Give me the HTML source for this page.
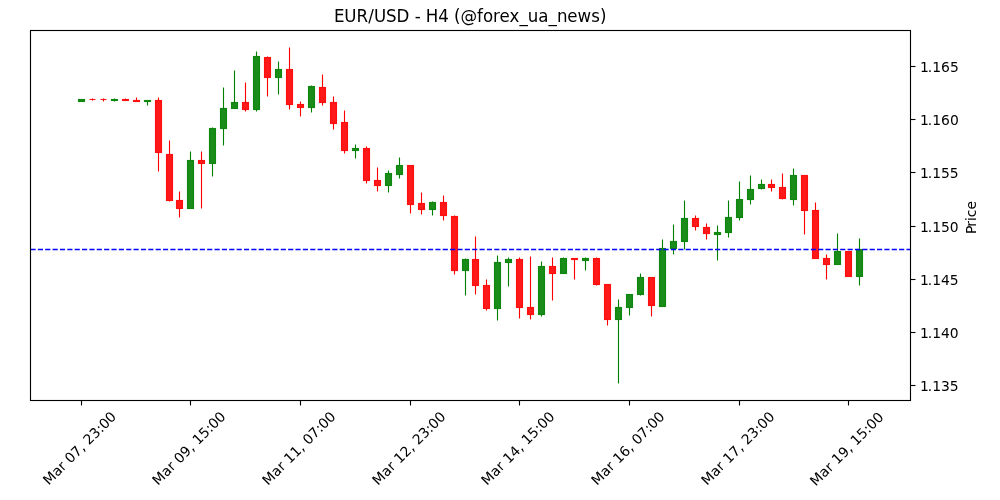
<!DOCTYPE html>
<html lang="en"><head><meta charset="utf-8"><title>EUR/USD - H4</title>
<style>html,body{margin:0;padding:0;background:#fff}svg{display:block}text{font-family:"DejaVu Sans","Liberation Sans",sans-serif;fill:#000}</style></head>
<body>
<svg width="1000" height="500" viewBox="0 0 1000 500">
<rect width="1000" height="500" fill="#fff"/>
<g stroke-width="1.111" stroke-linecap="butt">
<rect x="78.5" y="99.5" width="6" height="2" fill="#008000" stroke="#008000" fill-opacity="0.9" stroke-opacity="0.9"/>
<path d="M89.5 99.5h6" stroke="#ff0000" stroke-opacity="0.9" stroke-linecap="butt"/><path d="M92.5 98.5V99.5" stroke="#ff0000"/><path d="M92.5 99.5V100.5" stroke="#ff0000"/>
<path d="M100.5 99.5h6" stroke="#ff0000" stroke-opacity="0.9" stroke-linecap="butt"/><path d="M103.5 98.5V99.5" stroke="#ff0000"/><path d="M103.5 99.5V101.5" stroke="#ff0000"/>
<rect x="111.5" y="99.5" width="6" height="1" fill="#008000" stroke="#008000" fill-opacity="0.9" stroke-opacity="0.9"/><path d="M114.5 98.5V99.5" stroke="#008000"/><path d="M114.5 100.5V101.5" stroke="#008000"/>
<rect x="122.5" y="99.5" width="6" height="1" fill="#ff0000" stroke="#ff0000" fill-opacity="0.9" stroke-opacity="0.9"/><path d="M125.5 98.5V99.5" stroke="#ff0000"/>
<rect x="133.5" y="100.5" width="6" height="1" fill="#ff0000" stroke="#ff0000" fill-opacity="0.9" stroke-opacity="0.9"/><path d="M136.5 97.5V100.5" stroke="#ff0000"/>
<rect x="144.5" y="100.5" width="6" height="1" fill="#008000" stroke="#008000" fill-opacity="0.9" stroke-opacity="0.9"/><path d="M147.5 101.5V105.5" stroke="#008000"/>
<rect x="155.5" y="100.5" width="6" height="52" fill="#ff0000" stroke="#ff0000" fill-opacity="0.9" stroke-opacity="0.9"/><path d="M158.5 97.5V100.5" stroke="#ff0000"/><path d="M158.5 152.5V171.5" stroke="#ff0000"/>
<rect x="166.5" y="154.5" width="6" height="46" fill="#ff0000" stroke="#ff0000" fill-opacity="0.9" stroke-opacity="0.9"/><path d="M169.5 140.5V154.5" stroke="#ff0000"/><path d="M169.5 200.5V201.5" stroke="#ff0000"/>
<rect x="176.5" y="200.5" width="6" height="8" fill="#ff0000" stroke="#ff0000" fill-opacity="0.9" stroke-opacity="0.9"/><path d="M179.5 191.5V200.5" stroke="#ff0000"/><path d="M179.5 208.5V217.5" stroke="#ff0000"/>
<rect x="187.5" y="160.5" width="6" height="48" fill="#008000" stroke="#008000" fill-opacity="0.9" stroke-opacity="0.9"/><path d="M190.5 151.5V160.5" stroke="#008000"/>
<rect x="198.5" y="160.5" width="6" height="3" fill="#ff0000" stroke="#ff0000" fill-opacity="0.9" stroke-opacity="0.9"/><path d="M201.5 151.5V160.5" stroke="#ff0000"/><path d="M201.5 163.5V208.5" stroke="#ff0000"/>
<rect x="209.5" y="128.5" width="6" height="35" fill="#008000" stroke="#008000" fill-opacity="0.9" stroke-opacity="0.9"/><path d="M212.5 127.5V128.5" stroke="#008000"/><path d="M212.5 163.5V176.5" stroke="#008000"/>
<rect x="220.5" y="108.5" width="6" height="20" fill="#008000" stroke="#008000" fill-opacity="0.9" stroke-opacity="0.9"/><path d="M223.5 87.5V108.5" stroke="#008000"/><path d="M223.5 128.5V145.5" stroke="#008000"/>
<rect x="231.5" y="102.5" width="6" height="6" fill="#008000" stroke="#008000" fill-opacity="0.9" stroke-opacity="0.9"/><path d="M234.5 70.5V102.5" stroke="#008000"/>
<rect x="242.5" y="102.5" width="6" height="7" fill="#ff0000" stroke="#ff0000" fill-opacity="0.9" stroke-opacity="0.9"/><path d="M245.5 82.5V102.5" stroke="#ff0000"/><path d="M245.5 109.5V111.5" stroke="#ff0000"/>
<rect x="253.5" y="56.5" width="6" height="53" fill="#008000" stroke="#008000" fill-opacity="0.9" stroke-opacity="0.9"/><path d="M256.5 51.5V56.5" stroke="#008000"/><path d="M256.5 109.5V111.5" stroke="#008000"/>
<rect x="264.5" y="57.5" width="6" height="20" fill="#ff0000" stroke="#ff0000" fill-opacity="0.9" stroke-opacity="0.9"/><path d="M267.5 56.5V57.5" stroke="#ff0000"/><path d="M267.5 77.5V96.5" stroke="#ff0000"/>
<rect x="275.5" y="69.5" width="6" height="8" fill="#008000" stroke="#008000" fill-opacity="0.9" stroke-opacity="0.9"/><path d="M278.5 61.5V69.5" stroke="#008000"/><path d="M278.5 77.5V94.5" stroke="#008000"/>
<rect x="286.5" y="69.5" width="6" height="35" fill="#ff0000" stroke="#ff0000" fill-opacity="0.9" stroke-opacity="0.9"/><path d="M289.5 47.5V69.5" stroke="#ff0000"/><path d="M289.5 104.5V109.5" stroke="#ff0000"/>
<rect x="297.5" y="104.5" width="6" height="3" fill="#ff0000" stroke="#ff0000" fill-opacity="0.9" stroke-opacity="0.9"/><path d="M300.5 101.5V104.5" stroke="#ff0000"/><path d="M300.5 107.5V116.5" stroke="#ff0000"/>
<rect x="308.5" y="86.5" width="6" height="21" fill="#008000" stroke="#008000" fill-opacity="0.9" stroke-opacity="0.9"/><path d="M311.5 85.5V86.5" stroke="#008000"/><path d="M311.5 107.5V112.5" stroke="#008000"/>
<rect x="319.5" y="87.5" width="6" height="15" fill="#ff0000" stroke="#ff0000" fill-opacity="0.9" stroke-opacity="0.9"/><path d="M322.5 74.5V87.5" stroke="#ff0000"/><path d="M322.5 102.5V105.5" stroke="#ff0000"/>
<rect x="330.5" y="102.5" width="6" height="21" fill="#ff0000" stroke="#ff0000" fill-opacity="0.9" stroke-opacity="0.9"/><path d="M333.5 96.5V102.5" stroke="#ff0000"/><path d="M333.5 123.5V129.5" stroke="#ff0000"/>
<rect x="341.5" y="122.5" width="6" height="28" fill="#ff0000" stroke="#ff0000" fill-opacity="0.9" stroke-opacity="0.9"/><path d="M344.5 110.5V122.5" stroke="#ff0000"/><path d="M344.5 150.5V153.5" stroke="#ff0000"/>
<rect x="352.5" y="148.5" width="6" height="2" fill="#008000" stroke="#008000" fill-opacity="0.9" stroke-opacity="0.9"/><path d="M355.5 144.5V148.5" stroke="#008000"/><path d="M355.5 150.5V158.5" stroke="#008000"/>
<rect x="363.5" y="148.5" width="6" height="32" fill="#ff0000" stroke="#ff0000" fill-opacity="0.9" stroke-opacity="0.9"/><path d="M366.5 146.5V148.5" stroke="#ff0000"/><path d="M366.5 180.5V183.5" stroke="#ff0000"/>
<rect x="374.5" y="180.5" width="6" height="5" fill="#ff0000" stroke="#ff0000" fill-opacity="0.9" stroke-opacity="0.9"/><path d="M377.5 167.5V180.5" stroke="#ff0000"/><path d="M377.5 185.5V191.5" stroke="#ff0000"/>
<rect x="385.5" y="173.5" width="6" height="12" fill="#008000" stroke="#008000" fill-opacity="0.9" stroke-opacity="0.9"/><path d="M388.5 170.5V173.5" stroke="#008000"/><path d="M388.5 185.5V192.5" stroke="#008000"/>
<rect x="396.5" y="165.5" width="6" height="9" fill="#008000" stroke="#008000" fill-opacity="0.9" stroke-opacity="0.9"/><path d="M399.5 157.5V165.5" stroke="#008000"/><path d="M399.5 174.5V178.5" stroke="#008000"/>
<rect x="407.5" y="165.5" width="6" height="39" fill="#ff0000" stroke="#ff0000" fill-opacity="0.9" stroke-opacity="0.9"/><path d="M410.5 204.5V213.5" stroke="#ff0000"/>
<rect x="418.5" y="203.5" width="6" height="6" fill="#ff0000" stroke="#ff0000" fill-opacity="0.9" stroke-opacity="0.9"/><path d="M421.5 192.5V203.5" stroke="#ff0000"/><path d="M421.5 209.5V214.5" stroke="#ff0000"/>
<rect x="429.5" y="202.5" width="6" height="7" fill="#008000" stroke="#008000" fill-opacity="0.9" stroke-opacity="0.9"/><path d="M432.5 201.5V202.5" stroke="#008000"/><path d="M432.5 209.5V215.5" stroke="#008000"/>
<rect x="440.5" y="202.5" width="6" height="13" fill="#ff0000" stroke="#ff0000" fill-opacity="0.9" stroke-opacity="0.9"/><path d="M443.5 195.5V202.5" stroke="#ff0000"/><path d="M443.5 215.5V220.5" stroke="#ff0000"/>
<rect x="451.5" y="216.5" width="6" height="54" fill="#ff0000" stroke="#ff0000" fill-opacity="0.9" stroke-opacity="0.9"/><path d="M454.5 215.5V216.5" stroke="#ff0000"/><path d="M454.5 270.5V274.5" stroke="#ff0000"/>
<rect x="462.5" y="259.5" width="6" height="11" fill="#008000" stroke="#008000" fill-opacity="0.9" stroke-opacity="0.9"/><path d="M465.5 258.5V259.5" stroke="#008000"/><path d="M465.5 270.5V295.5" stroke="#008000"/>
<rect x="472.5" y="259.5" width="6" height="26" fill="#ff0000" stroke="#ff0000" fill-opacity="0.9" stroke-opacity="0.9"/><path d="M475.5 236.5V259.5" stroke="#ff0000"/><path d="M475.5 285.5V294.5" stroke="#ff0000"/>
<rect x="483.5" y="285.5" width="6" height="23" fill="#ff0000" stroke="#ff0000" fill-opacity="0.9" stroke-opacity="0.9"/><path d="M486.5 279.5V285.5" stroke="#ff0000"/><path d="M486.5 308.5V310.5" stroke="#ff0000"/>
<rect x="494.5" y="262.5" width="6" height="46" fill="#008000" stroke="#008000" fill-opacity="0.9" stroke-opacity="0.9"/><path d="M497.5 255.5V262.5" stroke="#008000"/><path d="M497.5 308.5V320.5" stroke="#008000"/>
<rect x="505.5" y="259.5" width="6" height="3" fill="#008000" stroke="#008000" fill-opacity="0.9" stroke-opacity="0.9"/><path d="M508.5 257.5V259.5" stroke="#008000"/><path d="M508.5 262.5V286.5" stroke="#008000"/>
<rect x="516.5" y="259.5" width="6" height="48" fill="#ff0000" stroke="#ff0000" fill-opacity="0.9" stroke-opacity="0.9"/><path d="M519.5 257.5V259.5" stroke="#ff0000"/><path d="M519.5 307.5V318.5" stroke="#ff0000"/>
<rect x="527.5" y="307.5" width="6" height="7" fill="#ff0000" stroke="#ff0000" fill-opacity="0.9" stroke-opacity="0.9"/><path d="M530.5 256.5V307.5" stroke="#ff0000"/><path d="M530.5 314.5V319.5" stroke="#ff0000"/>
<rect x="538.5" y="266.5" width="6" height="48" fill="#008000" stroke="#008000" fill-opacity="0.9" stroke-opacity="0.9"/><path d="M541.5 261.5V266.5" stroke="#008000"/><path d="M541.5 314.5V316.5" stroke="#008000"/>
<rect x="549.5" y="266.5" width="6" height="7" fill="#ff0000" stroke="#ff0000" fill-opacity="0.9" stroke-opacity="0.9"/><path d="M552.5 257.5V266.5" stroke="#ff0000"/><path d="M552.5 273.5V300.5" stroke="#ff0000"/>
<rect x="560.5" y="258.5" width="6" height="15" fill="#008000" stroke="#008000" fill-opacity="0.9" stroke-opacity="0.9"/><path d="M563.5 257.5V258.5" stroke="#008000"/>
<rect x="571.5" y="258.5" width="6" height="1" fill="#ff0000" stroke="#ff0000" fill-opacity="0.9" stroke-opacity="0.9"/><path d="M574.5 259.5V279.5" stroke="#ff0000"/>
<rect x="582.5" y="258.5" width="6" height="2" fill="#008000" stroke="#008000" fill-opacity="0.9" stroke-opacity="0.9"/><path d="M585.5 257.5V258.5" stroke="#008000"/><path d="M585.5 260.5V270.5" stroke="#008000"/>
<rect x="593.5" y="258.5" width="6" height="26" fill="#ff0000" stroke="#ff0000" fill-opacity="0.9" stroke-opacity="0.9"/><path d="M596.5 257.5V258.5" stroke="#ff0000"/><path d="M596.5 284.5V285.5" stroke="#ff0000"/>
<rect x="604.5" y="284.5" width="6" height="35" fill="#ff0000" stroke="#ff0000" fill-opacity="0.9" stroke-opacity="0.9"/><path d="M607.5 319.5V325.5" stroke="#ff0000"/>
<rect x="615.5" y="307.5" width="6" height="12" fill="#008000" stroke="#008000" fill-opacity="0.9" stroke-opacity="0.9"/><path d="M618.5 299.5V307.5" stroke="#008000"/><path d="M618.5 319.5V383.5" stroke="#008000"/>
<rect x="626.5" y="294.5" width="6" height="13" fill="#008000" stroke="#008000" fill-opacity="0.9" stroke-opacity="0.9"/><path d="M629.5 307.5V315.5" stroke="#008000"/>
<rect x="637.5" y="277.5" width="6" height="17" fill="#008000" stroke="#008000" fill-opacity="0.9" stroke-opacity="0.9"/><path d="M640.5 273.5V277.5" stroke="#008000"/><path d="M640.5 294.5V295.5" stroke="#008000"/>
<rect x="648.5" y="277.5" width="6" height="28" fill="#ff0000" stroke="#ff0000" fill-opacity="0.9" stroke-opacity="0.9"/><path d="M651.5 305.5V316.5" stroke="#ff0000"/>
<rect x="659.5" y="248.5" width="6" height="58" fill="#008000" stroke="#008000" fill-opacity="0.9" stroke-opacity="0.9"/><path d="M662.5 239.5V248.5" stroke="#008000"/>
<rect x="670.5" y="241.5" width="6" height="7" fill="#008000" stroke="#008000" fill-opacity="0.9" stroke-opacity="0.9"/><path d="M673.5 224.5V241.5" stroke="#008000"/><path d="M673.5 248.5V254.5" stroke="#008000"/>
<rect x="681.5" y="218.5" width="6" height="23" fill="#008000" stroke="#008000" fill-opacity="0.9" stroke-opacity="0.9"/><path d="M684.5 200.5V218.5" stroke="#008000"/><path d="M684.5 241.5V249.5" stroke="#008000"/>
<rect x="692.5" y="218.5" width="6" height="8" fill="#ff0000" stroke="#ff0000" fill-opacity="0.9" stroke-opacity="0.9"/><path d="M695.5 215.5V218.5" stroke="#ff0000"/><path d="M695.5 226.5V230.5" stroke="#ff0000"/>
<rect x="703.5" y="227.5" width="6" height="6" fill="#ff0000" stroke="#ff0000" fill-opacity="0.9" stroke-opacity="0.9"/><path d="M706.5 223.5V227.5" stroke="#ff0000"/><path d="M706.5 233.5V239.5" stroke="#ff0000"/>
<rect x="714.5" y="232.5" width="6" height="2" fill="#008000" stroke="#008000" fill-opacity="0.9" stroke-opacity="0.9"/><path d="M717.5 225.5V232.5" stroke="#008000"/><path d="M717.5 234.5V260.5" stroke="#008000"/>
<rect x="725.5" y="217.5" width="6" height="15" fill="#008000" stroke="#008000" fill-opacity="0.9" stroke-opacity="0.9"/><path d="M728.5 200.5V217.5" stroke="#008000"/><path d="M728.5 232.5V237.5" stroke="#008000"/>
<rect x="736.5" y="199.5" width="6" height="18" fill="#008000" stroke="#008000" fill-opacity="0.9" stroke-opacity="0.9"/><path d="M739.5 181.5V199.5" stroke="#008000"/><path d="M739.5 217.5V220.5" stroke="#008000"/>
<rect x="747.5" y="189.5" width="6" height="10" fill="#008000" stroke="#008000" fill-opacity="0.9" stroke-opacity="0.9"/><path d="M750.5 175.5V189.5" stroke="#008000"/><path d="M750.5 199.5V204.5" stroke="#008000"/>
<rect x="758.5" y="184.5" width="6" height="4" fill="#008000" stroke="#008000" fill-opacity="0.9" stroke-opacity="0.9"/><path d="M761.5 179.5V184.5" stroke="#008000"/><path d="M761.5 188.5V189.5" stroke="#008000"/>
<rect x="768.5" y="184.5" width="6" height="3" fill="#ff0000" stroke="#ff0000" fill-opacity="0.9" stroke-opacity="0.9"/><path d="M771.5 179.5V184.5" stroke="#ff0000"/><path d="M771.5 187.5V191.5" stroke="#ff0000"/>
<rect x="779.5" y="187.5" width="6" height="11" fill="#ff0000" stroke="#ff0000" fill-opacity="0.9" stroke-opacity="0.9"/><path d="M782.5 173.5V187.5" stroke="#ff0000"/><path d="M782.5 198.5V199.5" stroke="#ff0000"/>
<rect x="790.5" y="175.5" width="6" height="24" fill="#008000" stroke="#008000" fill-opacity="0.9" stroke-opacity="0.9"/><path d="M793.5 168.5V175.5" stroke="#008000"/><path d="M793.5 199.5V205.5" stroke="#008000"/>
<rect x="801.5" y="175.5" width="6" height="35" fill="#ff0000" stroke="#ff0000" fill-opacity="0.9" stroke-opacity="0.9"/><path d="M804.5 210.5V234.5" stroke="#ff0000"/>
<rect x="812.5" y="210.5" width="6" height="48" fill="#ff0000" stroke="#ff0000" fill-opacity="0.9" stroke-opacity="0.9"/><path d="M815.5 202.5V210.5" stroke="#ff0000"/>
<rect x="823.5" y="258.5" width="6" height="6" fill="#ff0000" stroke="#ff0000" fill-opacity="0.9" stroke-opacity="0.9"/><path d="M826.5 254.5V258.5" stroke="#ff0000"/><path d="M826.5 264.5V279.5" stroke="#ff0000"/>
<rect x="834.5" y="251.5" width="6" height="13" fill="#008000" stroke="#008000" fill-opacity="0.9" stroke-opacity="0.9"/><path d="M837.5 233.5V251.5" stroke="#008000"/>
<rect x="845.5" y="251.5" width="6" height="25" fill="#ff0000" stroke="#ff0000" fill-opacity="0.9" stroke-opacity="0.9"/>
<rect x="856.5" y="249.5" width="6" height="27" fill="#008000" stroke="#008000" fill-opacity="0.9" stroke-opacity="0.9"/><path d="M859.5 238.5V249.5" stroke="#008000"/><path d="M859.5 276.5V285.5" stroke="#008000"/>
</g>
<path d="M30.5 249.5H910.5" stroke="#0000ff" stroke-width="1.389" stroke-dasharray="5.139 2.222" fill="none"/>
<rect x="30.5" y="30.5" width="880" height="370" fill="none" stroke="#000" stroke-width="1.111"/>
<g stroke="#000" stroke-width="1.111">
<path d="M81.5 400.5V405.5"/><path d="M190.5 400.5V405.5"/><path d="M300.5 400.5V405.5"/><path d="M410.5 400.5V405.5"/><path d="M519.5 400.5V405.5"/><path d="M629.5 400.5V405.5"/><path d="M739.5 400.5V405.5"/><path d="M848.5 400.5V405.5"/>
<path d="M910.5 66.5H915.5"/><path d="M910.5 119.5H915.5"/><path d="M910.5 172.5H915.5"/><path d="M910.5 226.5H915.5"/><path d="M910.5 279.5H915.5"/><path d="M910.5 332.5H915.5"/><path d="M910.5 385.5H915.5"/>
</g>
<g font-size="13.889">
<text transform="translate(919.9 71.8)" x="0 7.88 12.25 21.12 30">1.165</text>
<text transform="translate(919.9 124.8)" x="0 7.88 12.25 21.12 30">1.160</text>
<text transform="translate(919.9 177.8)" x="0 7.88 12.25 21.12 29.88">1.155</text>
<text transform="translate(919.9 231.8)" x="0 7.88 12.25 21.12 29.88">1.150</text>
<text transform="translate(919.9 284.8)" x="0 7.88 12.25 21.12 29.88">1.145</text>
<text transform="translate(919.9 337.8)" x="0 7.88 12.25 21.12 29.88">1.140</text>
<text transform="translate(919.9 390.8)" x="0 7.88 12.25 21.12 29.88">1.135</text>
<text transform="translate(80.5 449.3) rotate(-45)" x="-48.31 -36.31 -27.69 -21.94 -17.56 -8.81 -0.06 4.31 8.69 17.44 26.19 30.81 39.56" y="3.4">Mar 07, 23:00</text>
<text transform="translate(189.75 449.3) rotate(-45)" x="-48.44 -36.44 -27.81 -22.06 -17.69 -8.94 -0.06 4.31 8.69 17.56 26.31 30.94 39.69" y="3.4">Mar 09, 15:00</text>
<text transform="translate(299.75 449.3) rotate(-45)" x="-48.44 -36.44 -27.81 -22.06 -17.69 -8.81 0.06 4.44 8.81 17.56 26.31 30.94 39.69" y="3.4">Mar 11, 07:00</text>
<text transform="translate(409.75 449.3) rotate(-45)" x="-48.38 -36.38 -27.75 -22 -17.62 -8.75 0 4.38 8.75 17.5 26.25 30.88 39.62" y="3.4">Mar 12, 23:00</text>
<text transform="translate(518.75 449.3) rotate(-45)" x="-48.44 -36.44 -27.81 -22.06 -17.69 -8.81 -0.06 4.31 8.69 17.56 26.31 30.94 39.69" y="3.4">Mar 14, 15:00</text>
<text transform="translate(628.75 449.3) rotate(-45)" x="-48.44 -36.44 -27.81 -22.06 -17.69 -8.81 0.06 4.44 8.81 17.56 26.31 30.94 39.69" y="3.4">Mar 16, 07:00</text>
<text transform="translate(738.75 449.3) rotate(-45)" x="-48.38 -36.38 -27.75 -22 -17.62 -8.75 0 4.38 8.75 17.5 26.25 30.88 39.62" y="3.4">Mar 17, 23:00</text>
<text transform="translate(847.75 450.05) rotate(-45)" x="-48.5 -36.5 -27.88 -22.12 -17.75 -8.88 0 4.38 8.75 17.62 26.38 31 39.75" y="3.4">Mar 19, 15:00</text>
<text transform="translate(976.2 217.05) rotate(-90)" x="-16.94 -9.81 -4.06 -0.19 7.44">Price</text>
</g>
<text transform="translate(334 22) scale(1 1.086)" font-size="16.667" x="0 10.38 22.62 34.25 39.88 52.12 62.62 75.5 80.75 86.62 91.88 104.38 114.88 120.12 126.5 143.12 149 159.12 165.62 175.62 185.5 193.88 204.38 214.5 222.88 233.38 243.62 257.25 266">EUR/USD - H4 (@forex_ua_news)</text>
</svg>
</body></html>
